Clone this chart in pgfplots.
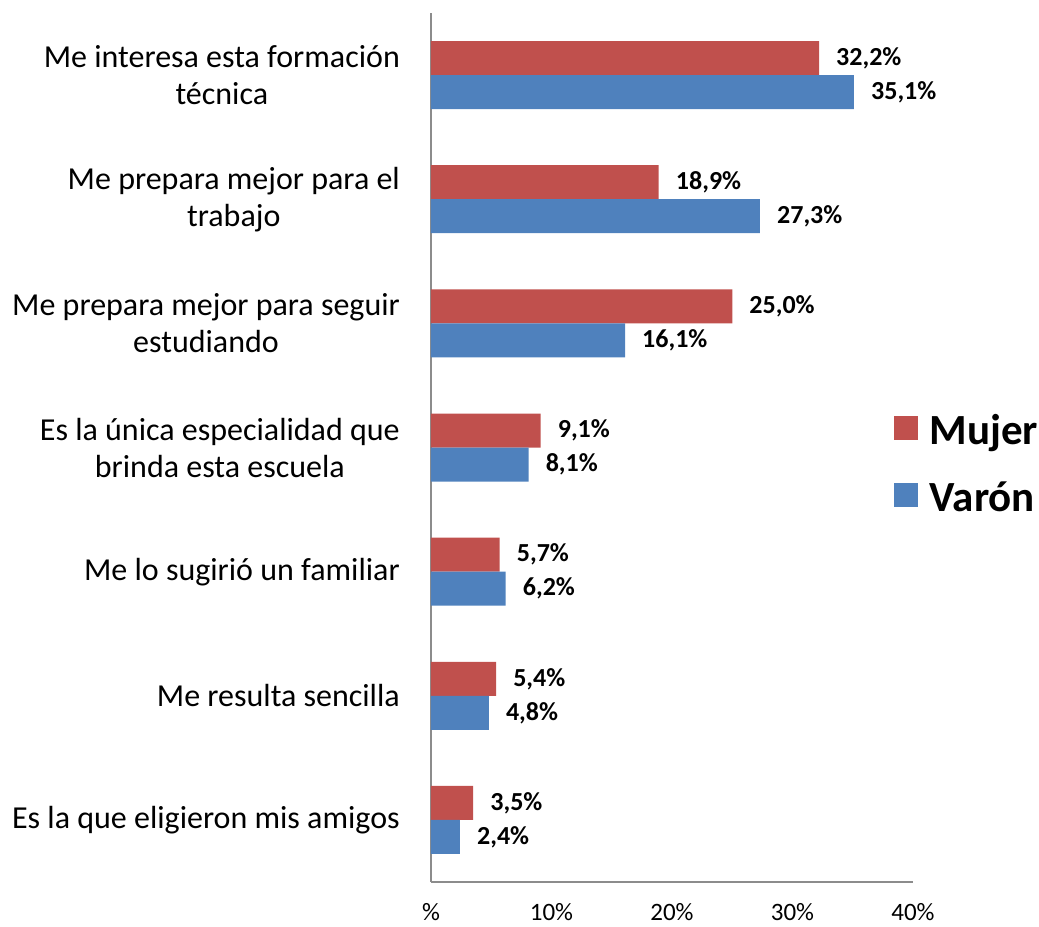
\documentclass[border=0pt]{standalone}
\usepackage{fontspec}
\setmainfont{Carlito}
\usepackage{pgfplots}
\pgfplotsset{compat=1.18}
\definecolor{mujer}{HTML}{C0504D}
\definecolor{varon}{HTML}{4F81BD}
\definecolor{axgray}{HTML}{8C8C8C}
\begin{document}
\begin{tikzpicture}
\begin{axis}[
  name=ax,
  scale only axis,
  width=482pt, height=869pt,
  xmin=0, xmax=40,
  ymin=-0.5, ymax=6.5,
  y dir=reverse,
  xbar,
  bar width=34pt,
  clip=false,
  axis x line*=bottom,
  axis y line*=left,
  axis line style={axgray, line width=1.5pt},
  major tick length=0pt,
  xtick={0,10,20,30,40},
  xticklabels={\%,10\%,20\%,30\%,40\%},
  xticklabel style={anchor=base, yshift=-38pt, font=\fontsize{25}{30}\selectfont},
  ytick={0,1,2,3,4,5,6},
  yticklabels={{Me interesa esta formación\\técnica},
               {Me prepara mejor para el\\trabajo},
               {Me prepara mejor para seguir\\estudiando},
               {Es la única especialidad que\\brinda esta escuela},
               {Me lo sugirió un familiar},
               {Me resulta sencilla},
               {Es la que eligieron mis amigos}},
  yticklabel style={align=center, inner sep=0pt, xshift=-31pt, font=\fontsize{32}{37}\selectfont},
  point meta=x,
  nodes near coords={\pgfmathprintnumber[fixed,fixed zerofill,precision=1,use comma,assume math mode=true]{\pgfplotspointmeta}\%},
  nodes near coords style={anchor=west, inner sep=0pt, xshift=17pt, font=\fontsize{26}{30}\selectfont\bfseries, black},
  legend style={draw=none, fill=none, at={(axis description cs:0.96,0.475)}, anchor=west,
    inner sep=0pt, outer sep=0pt, column sep=12pt, row sep=25pt,
    font=\fontsize{43}{48}\selectfont\bfseries,
    nodes={inner sep=0pt, text height=30pt, text depth=12pt}},
  legend cell align=left,
  legend image code/.code={\fill[#1] (0pt,-4pt) rectangle (24pt,20pt);},
]
\addplot[fill=mujer, draw=none, bar shift=17pt] coordinates {
  (32.2,0) (18.9,1) (25.0,2) (9.1,3) (5.7,4) (5.4,5) (3.5,6)};
\addlegendentry{Mujer}
\addplot[fill=varon, draw=none, bar shift=-17pt] coordinates {
  (35.1,0) (27.3,1) (16.1,2) (8.1,3) (6.2,4) (4.8,5) (2.4,6)};
\addlegendentry{Varón}
\end{axis}
\path ([shift={(-431pt,-44pt)}]ax.south west) rectangle ([shift={(126pt,13pt)}]ax.north east);
\end{tikzpicture}
\end{document}
